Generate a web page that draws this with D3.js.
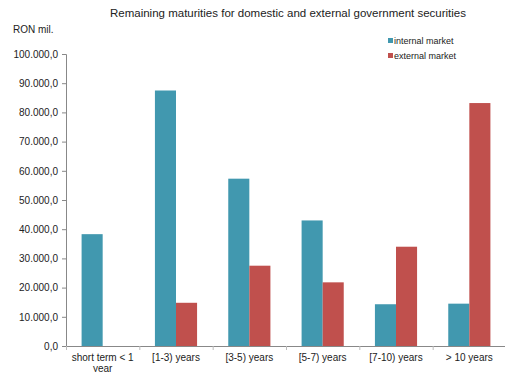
<!DOCTYPE html>
<html>
<head>
<meta charset="utf-8">
<script src="https://cdn.jsdelivr.net/npm/d3@7"></script>
<style>
  body { margin: 0; background: #fff; }
  svg { display: block; font-family: "Liberation Sans", Arial, sans-serif; }
</style>
</head>
<body>
<svg id="chart" width="505" height="372"></svg>
<script>
// data
const categories = ['short term < 1 year', '[1-3) years', '[3-5) years', '[5-7) years', '[7-10) years', '> 10 years']
const internalMarket = [38300, 87500, 57300, 43000, 14300, 14500]
const externalMarket = [null, 14800, 27500, 21800, 34000, 83200]
const yTicks = [0, 10000, 20000, 30000, 40000, 50000, 60000, 70000, 80000, 90000, 100000]
const seriesNames = ['internal market', 'external market']
const colors = ['#4198af', '#c0504d']

let width = 505
let height = 372
let margin = { left: 66, right: -1, top: 54, bottom: 26 }

let svg = d3.select('#chart')

let x = d3.scaleBand()
  .domain(categories)
  .range([margin.left, width - margin.right])
  .paddingInner(0).paddingOuter(0)

let inner = d3.scaleBand()
  .domain([0, 1])
  .range([0, x.bandwidth()])
  .paddingInner(0)
  .paddingOuter(0.74)

let y = d3.scaleLinear()
  .domain([0, 100000])
  .range([height - margin.bottom, margin.top])

let fmt = v => d3.format(',.1f')(v).replace(/,/g, '#').replace('.', ',').replace(/#/g, '.')

// title
svg.append('text')
  .attr('x', 288).attr('y', 17)
  .attr('text-anchor', 'middle')
  .attr('font-size', 11.5)
  .attr('fill', '#222')
  .text('Remaining maturities for domestic and external government securities')

svg.append('text')
  .attr('x', 13).attr('y', 33)
  .attr('font-size', 10)
  .attr('fill', '#222')
  .text('RON mil.')

// bars
let series = [internalMarket, externalMarket]
series.forEach((vals, si) => {
  svg.append('g')
    .selectAll('rect')
    .data(vals.map((v, i) => ({ v: v, c: categories[i] })).filter(d => d.v != null))
    .enter().append('rect')
    .attr('x', d => x(d.c) + inner(si))
    .attr('y', d => y(d.v))
    .attr('width', inner.bandwidth())
    .attr('height', d => y(0) - y(d.v))
    .attr('fill', colors[si])
})

// y axis
let yAxis = svg.append('g')
  .attr('transform', `translate(${margin.left},0)`)
  .call(d3.axisLeft(y).tickValues(yTicks).tickFormat(fmt).tickSize(4).tickPadding(4))
yAxis.select('.domain').attr('stroke', '#888')
yAxis.selectAll('.tick line').attr('stroke', '#888')
yAxis.selectAll('text').attr('font-size', 10).attr('fill', '#222').attr('font-family', 'Liberation Sans, Arial, sans-serif')

// x axis
let xAxis = svg.append('g')
  .attr('transform', `translate(0,${y(0)})`)
  .call(d3.axisBottom(x).tickSize(0).tickPadding(8))
xAxis.select('.domain').attr('stroke', '#888')
xAxis.selectAll('text').attr('font-size', 10).attr('fill', '#222').attr('font-family', 'Liberation Sans, Arial, sans-serif')
  .each(function (d) {
    if (d === categories[0]) {
      let t = d3.select(this)
      t.text(null)
      t.append('tspan').attr('x', 0).attr('dy', '0.71em').text('short term < 1')
      t.append('tspan').attr('x', 0).attr('dy', '1.1em').text('year')
    }
  })
// boundary ticks between categories
xAxis.selectAll('line.sep')
  .data(categories)
  .enter().append('line')
  .attr('class', 'sep')
  .attr('x1', d => x(d) + 0.5).attr('x2', d => x(d) + 0.5)
  .attr('y1', 0).attr('y2', 4)
  .attr('stroke', '#bbb')

// legend
let legend = svg.append('g')
seriesNames.forEach((name, i) => {
  legend.append('rect')
    .attr('x', 388).attr('y', 38 + i * 15)
    .attr('width', 5).attr('height', 5)
    .attr('fill', colors[i])
  legend.append('text')
    .attr('x', 394).attr('y', 44 + i * 15)
    .attr('font-size', 9)
    .attr('fill', '#222')
    .text(name)
})
</script>
</body>
</html>
